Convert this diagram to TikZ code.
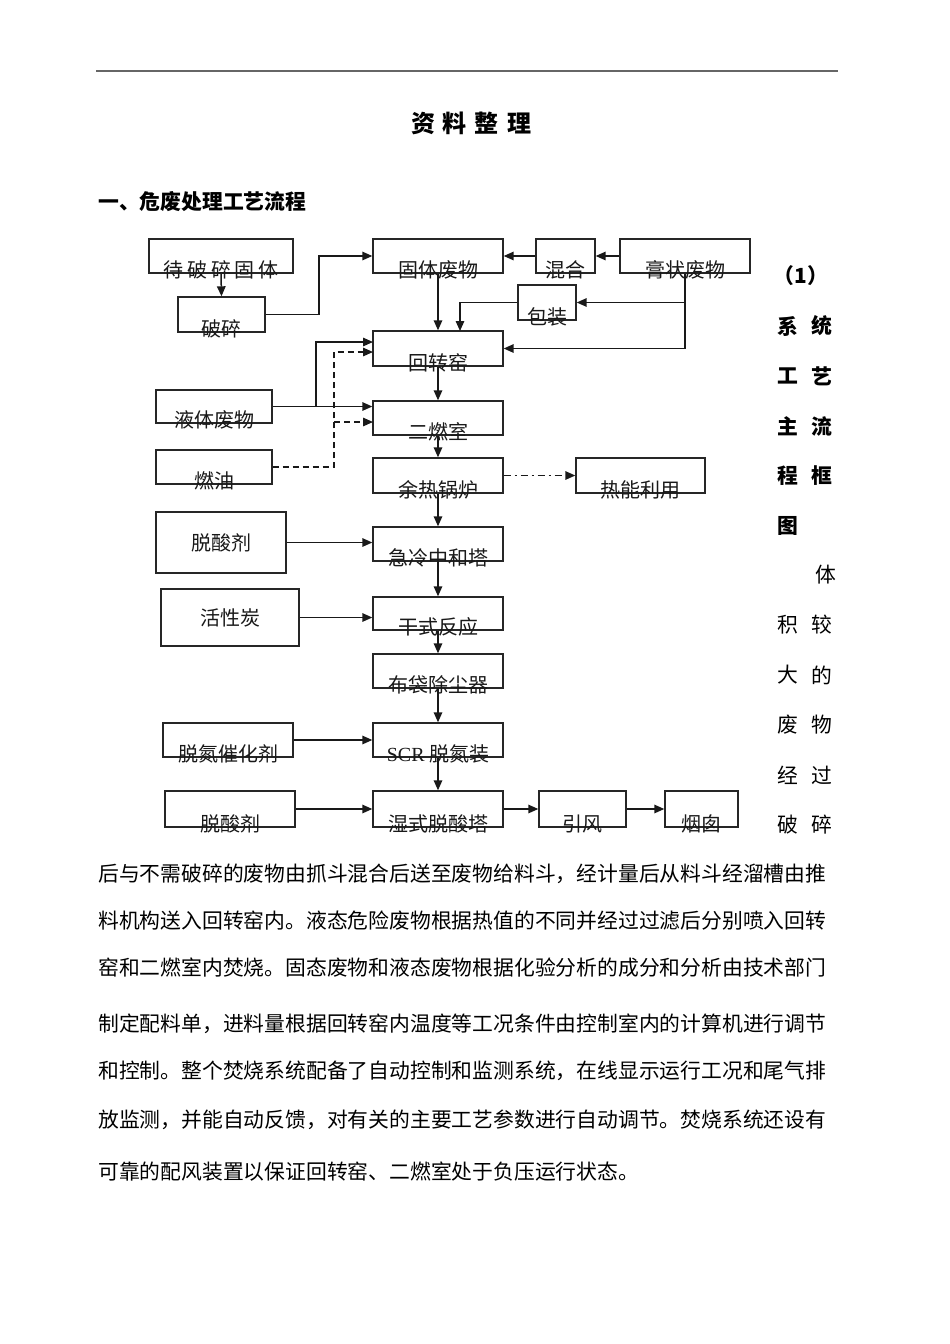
\documentclass[tikz,border=0pt]{standalone}
\usepackage{fontspec}
\setmainfont{Liberation Serif}
\newfontfamily\cjk{Noto Sans CJK SC}
\usetikzlibrary{arrows.meta,fit}
\tikzset{
  bx/.style={draw=black!85, line width=1.4pt, inner sep=0pt},
  lb/.style={font=\cjk\fontsize{20}{20}\selectfont, inner sep=0pt, text=black!90},
  arr/.style={-{Triangle[length=10pt,width=8.5pt]}, line width=1.5pt, draw=black!90},
  dsh/.style={dash pattern=on 6pt off 4pt},
  dd/.style={dash pattern=on 7pt off 4pt on 2pt off 4pt},
  body/.style={font=\cjk\fontsize{20.8}{21}\selectfont, inner sep=0pt, anchor=west},
  side/.style={font=\cjk\fontsize{20.8}{21}\selectfont, inner sep=0pt},
  sideb/.style={font=\cjk\bfseries\fontsize{20.8}{21}\selectfont, inner sep=0pt}
}
\newcommand\pbox[6]{\node[bx, fit={(#2,#3) (#4,#5)}, label={[lb,anchor=center,yshift=4pt]south:#6}] (#1) {};}
\newcommand\cbox[6]{\node[bx, fit={(#2,#3) (#4,#5)}, label={[lb]center:#6}] (#1) {};}
\begin{document}
\begin{tikzpicture}[x=1pt,y=-1pt]
\useasboundingbox[fill=white] (0,0) rectangle (950,1344);
% top rule
\draw[line width=2pt, black!60] (96,71) -- (838,71);
\node[font=\cjk\bfseries\fontsize{24}{24}\selectfont, inner sep=0pt] (title) at (471,123) {资\hspace{8pt}料\hspace{8pt}整\hspace{8pt}理};
\node[font=\cjk\bfseries\fontsize{20.8}{21}\selectfont, inner sep=0pt, anchor=west] (head) at (98,202) {一、危废处理工艺流程};
% boxes
\pbox{dp}{149}{239}{293}{273}{待\hspace{3.6pt}破\hspace{3.6pt}碎\hspace{3.6pt}固\hspace{3.6pt}体}
\pbox{ps}{178}{297}{265}{332}{破碎}
\pbox{gt}{373}{239}{503}{273}{固体废物}
\pbox{hh}{536}{239}{595}{273}{混合}
\pbox{gz}{620}{239}{750}{273}{膏状废物}
\pbox{bz}{518}{285}{576}{320}{包装}
\pbox{hzy}{373}{331}{503}{366}{回转窑}
\pbox{yt}{156}{390}{272}{423}{液体废物}
\pbox{ers}{373}{401}{503}{435}{二燃室}
\pbox{ry}{156}{450}{272}{484}{燃油}
\pbox{yr}{373}{458}{503}{493}{余热锅炉}
\pbox{rn}{576}{458}{705}{493}{热能利用}
\cbox{tsa}{156}{512}{286}{573}{脱酸剂}
\pbox{jl}{373}{527}{503}{561}{急冷中和塔}
\cbox{hx}{161}{589}{299}{646}{活性炭}
\pbox{gs}{373}{597}{503}{630}{干式反应}
\pbox{bd}{373}{654}{503}{688}{布袋除尘器}
\pbox{td}{163}{723}{293}{757}{脱氮催化剂}
\pbox{scr}{373}{723}{503}{757}{{\rmfamily SCR} 脱氮装}
\pbox{tsb}{165}{791}{295}{827}{脱酸剂}
\pbox{ss}{373}{791}{503}{827}{湿式脱酸塔}
\pbox{yf}{539}{791}{626}{827}{引风}
\pbox{yc}{665}{791}{738}{827}{烟囱}
% junction coordinates
\coordinate (j1) at (319,256);
\coordinate (k1) at (460,331);
\coordinate (b1) at (316,406.5);
\coordinate (h1) at (373,342);
\coordinate (c1) at (334,352);
\coordinate (h2) at (373,352);
\coordinate (d1) at (334,422);
\coordinate (e2) at (373,422);
% connectors
\draw[arr] (dp.south) -- (ps.north);
\draw[arr] (ps.east) -| (j1) -- (gt.west);
\draw[arr] (hh.west) -- (gt.east);
\draw[arr] (gz.west) -- (hh.east);
\draw[arr] (gt.south) -- (hzy.north);
\draw[arr] (gz.south) |- (bz.east);
\draw[arr] (gz.south) |- (hzy.east);
\draw[arr] (bz.west) -| (k1);
\draw[arr] (yt.east) -- (yt.east -| ers.west);
\draw[arr] (b1) |- (h1);
\draw[arr,dsh] (ry.east) -| (c1) -- (h2);
\draw[arr,dsh] (d1) -- (e2);
\draw[arr] (hzy.south) -- (ers.north);
\draw[arr] (ers.south) -- (yr.north);
\draw[arr,dd] (yr.east) -- (rn.west);
\draw[arr] (yr.south) -- (jl.north);
\draw[arr] (jl.south) -- (gs.north);
\draw[arr] (gs.south) -- (bd.north);
\draw[arr] (bd.south) -- (scr.north);
\draw[arr] (scr.south) -- (ss.north);
\draw[arr] (tsa.east) -- (tsa.east -| jl.west);
\draw[arr] (hx.east) -- (hx.east -| gs.west);
\draw[arr] (td.east) -- (scr.west);
\draw[arr] (tsb.east) -- (ss.west);
\draw[arr] (ss.east) -- (yf.west);
\draw[arr] (yf.east) -- (yc.west);
% right column
\node[sideb] (s0) at (801,276) {（1）};
\node[sideb] (s1a) at (788,326) {系}; \node[sideb] (s1b) at (822,326) {统};
\node[sideb] (s2a) at (788,376) {工}; \node[sideb] (s2b) at (822,376) {艺};
\node[sideb] (s3a) at (788,426) {主}; \node[sideb] (s3b) at (822,426) {流};
\node[sideb] (s4a) at (788,476) {程}; \node[sideb] (s4b) at (822,476) {框};
\node[sideb] (s5a) at (788,526) {图};
\node[side] (s6b) at (826,575) {体};
\node[side] (s7a) at (788,625) {积}; \node[side] (s7b) at (822,625) {较};
\node[side] (s8a) at (788,675) {大}; \node[side] (s8b) at (822,675) {的};
\node[side] (s9a) at (788,725) {废}; \node[side] (s9b) at (822,725) {物};
\node[side] (s10a) at (788,775) {经}; \node[side] (s10b) at (822,775) {过};
\node[side] (s11a) at (788,825) {破}; \node[side] (s11b) at (822,825) {碎};
% paragraph
\node[body] (p1) at (98,874) {后与不需破碎的废物由抓斗混合后送至废物给料斗，经计量后从料斗经溜槽由推};
\node[body] (p2) at (98,921) {料机构送入回转窑内。液态危险废物根据热值的不同并经过过滤后分别喷入回转};
\node[body] (p3) at (98,968) {窑和二燃室内焚烧。固态废物和液态废物根据化验分析的成分和分析由技术部门};
\node[body] (p4) at (98,1024) {制定配料单，进料量根据回转窑内温度等工况条件由控制室内的计算机进行调节};
\node[body] (p5) at (98,1071) {和控制。整个焚烧系统配备了自动控制和监测系统，在线显示运行工况和尾气排};
\node[body] (p6) at (98,1120) {放监测，并能自动反馈，对有关的主要工艺参数进行自动调节。焚烧系统还设有};
\node[body] (p7) at (98,1172) {可靠的配风装置以保证回转窑、二燃室处于负压运行状态。};
\end{tikzpicture}
\end{document}
